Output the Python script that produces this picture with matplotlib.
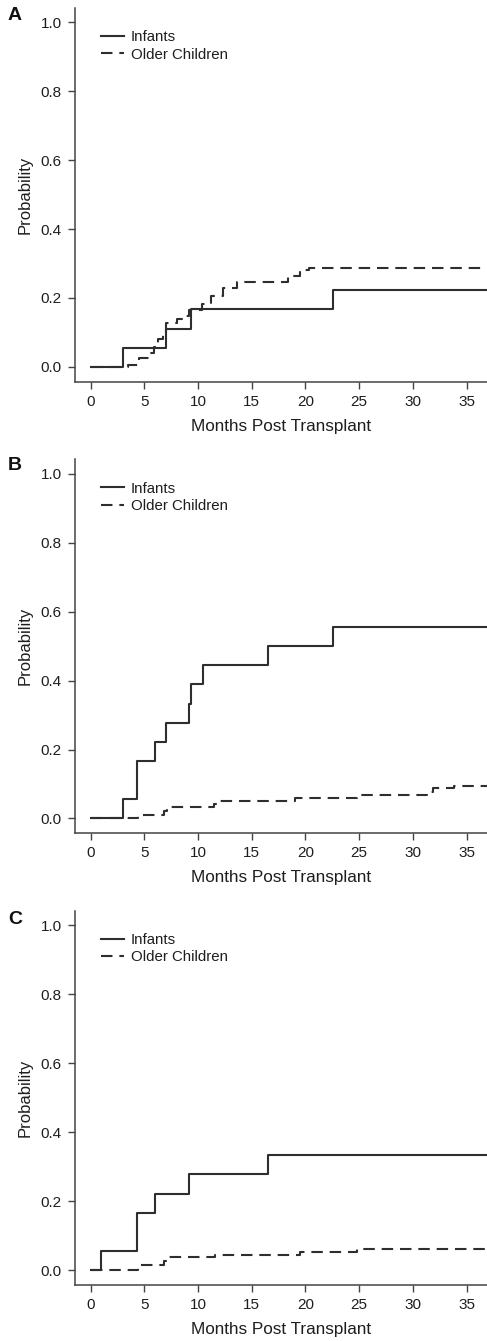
"""Cumulative incidence curves, infants vs older children (panels A-C)."""

import matplotlib
matplotlib.use("Agg")
import matplotlib.pyplot as plt
import numpy as np

plt.rcParams['font.family'] = ['Liberation Sans', 'DejaVu Sans']
plt.rcParams['text.color'] = '#1e1e1e'
plt.rcParams['axes.labelcolor'] = '#1e1e1e'
plt.rcParams['xtick.color'] = '#444444'
plt.rcParams['ytick.color'] = '#444444'
plt.rcParams['xtick.labelcolor'] = '#1e1e1e'
plt.rcParams['ytick.labelcolor'] = '#1e1e1e'

# Panel A
a_inf_t = [0, 3.0, 7.0, 9.3, 22.6]
a_inf_p = [0, 0.056, 0.111, 0.167, 0.224]
a_old_t = [0, 3.5, 4.5, 5.4, 5.9, 6.3, 6.7, 7.0, 8.0, 8.5, 9.2, 10.4, 11.2,
           12.3, 13.6, 18.4, 19.5, 20.3]
a_old_p = [0, 0.006, 0.025, 0.04, 0.057, 0.08, 0.1, 0.127, 0.138, 0.147, 0.165,
           0.182, 0.207, 0.228, 0.245, 0.265, 0.281, 0.288]

# Panel B
b_inf_t = [0, 3.0, 4.3, 6.0, 7.0, 9.15, 9.3, 10.5, 16.5, 22.6]
b_inf_p = [0, 0.056, 0.167, 0.222, 0.278, 0.333, 0.389, 0.444, 0.5, 0.556]
b_old_t = [0, 4.4, 6.8, 7.1, 11.5, 11.8, 19.0, 24.8, 31.3, 31.9, 33.8]
b_old_p = [0, 0.011, 0.022, 0.034, 0.041, 0.05, 0.059, 0.068, 0.077, 0.087, 0.095]

# Panel C
c_inf_t = [0, 1.0, 4.3, 6.0, 9.15, 16.5]
c_inf_p = [0, 0.056, 0.167, 0.222, 0.278, 0.333]
c_old_t = [0, 4.4, 6.8, 7.1, 11.6, 19.5, 24.8]
c_old_p = [0, 0.015, 0.026, 0.038, 0.045, 0.053, 0.062]

panels = [
    ("A", a_inf_t, a_inf_p, a_old_t, a_old_p),
    ("B", b_inf_t, b_inf_p, b_old_t, b_old_p),
    ("C", c_inf_t, c_inf_p, c_old_t, c_old_p),
]

x_end = 37.0
line_col = '#2e2e2e'

fig = plt.figure(figsize=(4.87, 13.41), dpi=100)
# axes boxes in figure fractions (left, bottom, width, height)
boxes = [(0.154, 0.7154, 0.846, 0.2787),
         (0.154, 0.3786, 0.846, 0.2789),
         (0.154, 0.0418, 0.846, 0.2791)]
label_y = [1 - 15 / 1341, 1 - 466 / 1341, 1 - 919 / 1341]

for (letter, it, ip, ot, op), box, ly in zip(panels, boxes, label_y):
    ax = fig.add_axes(box)
    ax.step(np.append(it, x_end), np.append(ip, ip[-1]), where='post',
            color=line_col, lw=1.5, label='Infants')
    ax.step(np.append(ot, x_end), np.append(op, op[-1]), where='post',
            color=line_col, lw=1.5, dashes=(5.5, 3.3), label='Older Children')

    ax.set_xlim(-1.46, 36.9)
    ax.set_ylim(-0.043, 1.042)
    ax.set_xticks(range(0, 36, 5))
    ax.set_yticks([0, 0.2, 0.4, 0.6, 0.8, 1.0])
    ax.set_yticklabels(['0.0', '0.2', '0.4', '0.6', '0.8', '1.0'])
    ax.tick_params(direction='out', length=5, width=1.0, labelsize=11, pad=4.5)
    for side in ['top', 'right']:
        ax.spines[side].set_visible(False)
    for side in ['left', 'bottom']:
        ax.spines[side].set_color('#444444')
        ax.spines[side].set_linewidth(1.1)

    ax.set_xlabel('Months Post Transplant', fontsize=12.3, labelpad=7)
    ax.set_ylabel('Probability', fontsize=12, labelpad=5.5)

    ax.legend(loc='upper left', bbox_to_anchor=(0.063, 0.94), frameon=False,
              fontsize=10.8, handlelength=1.55, handletextpad=0.45,
              labelspacing=0.22, borderpad=0, borderaxespad=0)

    fig.text(15 / 487, ly, letter, fontsize=14, fontweight='bold',
             ha='center', va='center', color='#111111')

fig.savefig('out.png', dpi=100)
